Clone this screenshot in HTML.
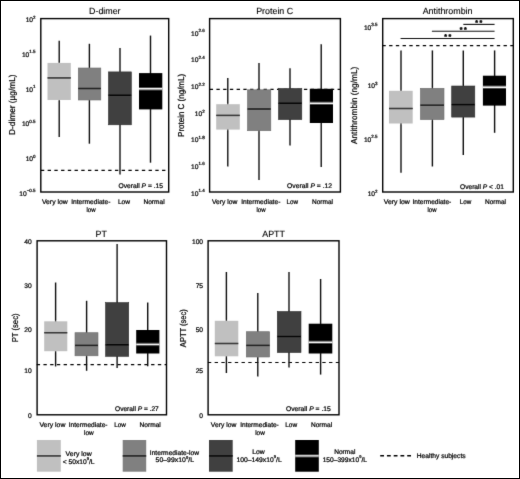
<!DOCTYPE html>
<html><head><meta charset="utf-8"><title>Figure</title>
<style>html,body{margin:0;padding:0;background:#fff;}svg{display:block;}text{text-rendering:geometricPrecision;stroke:#000;stroke-width:0.24px;}</style>
</head><body>
<svg width="520" height="479" viewBox="0 0 520 479" font-family='"Liberation Sans", Arial, Helvetica, sans-serif' fill="#000">
<rect x="0" y="0" width="520" height="479" fill="#fff"/>
<defs><filter id="soft" x="0" y="0" width="520" height="479" filterUnits="userSpaceOnUse"><feConvolveMatrix order="3" kernelMatrix="0.01 0.07 0.01 0.07 0.68 0.07 0.01 0.07 0.01" divisor="1" edgeMode="duplicate" preserveAlpha="false"/></filter></defs>
<g filter="url(#soft)">
<line x1="40.90" y1="170.40" x2="168.70" y2="170.40" stroke="#000" stroke-width="1.2" stroke-dasharray="3.35 3.38"/>
<line x1="59.20" y1="40.80" x2="59.20" y2="136.90" stroke="#111" stroke-width="1.4"/>
<rect x="47.50" y="62.90" width="23.30" height="37.10" fill="#c0c0c0"/>
<line x1="47.50" y1="77.90" x2="70.80" y2="77.90" stroke="#1a1a1a" stroke-width="1.5"/>
<line x1="89.40" y1="43.80" x2="89.40" y2="143.70" stroke="#111" stroke-width="1.4"/>
<rect x="78.30" y="68.00" width="22.50" height="32.00" fill="#808080" stroke="#6c6c6c" stroke-width="0.6"/>
<line x1="78.30" y1="88.50" x2="100.80" y2="88.50" stroke="#111111" stroke-width="1.5"/>
<line x1="120.00" y1="48.00" x2="120.00" y2="174.60" stroke="#111" stroke-width="1.4"/>
<rect x="108.50" y="71.90" width="22.80" height="52.90" fill="#404040" stroke="#2e2e2e" stroke-width="0.6"/>
<line x1="108.50" y1="95.20" x2="131.30" y2="95.20" stroke="#000000" stroke-width="1.5"/>
<line x1="150.50" y1="35.60" x2="150.50" y2="162.70" stroke="#111" stroke-width="1.4"/>
<rect x="139.00" y="73.10" width="23.30" height="36.30" fill="#000000"/>
<line x1="139.00" y1="88.80" x2="162.30" y2="88.80" stroke="#f0f0f0" stroke-width="1.7"/>
<rect x="40.80" y="18.60" width="127.90" height="173.40" fill="none" stroke="#000" stroke-width="1.4"/>
<text x="104.80" y="13.80" font-size="8.9" text-anchor="middle" style="stroke-width:0.12px">D-dimer</text>
<text x="35.60" y="22.00" font-size="6.7" text-anchor="end">10<tspan font-size="4.5" dy="-3.4">2</tspan></text>
<text x="35.60" y="56.80" font-size="6.7" text-anchor="end">10<tspan font-size="4.5" dy="-3.4">1.5</tspan></text>
<text x="35.60" y="91.60" font-size="6.7" text-anchor="end">10<tspan font-size="4.5" dy="-3.4">1</tspan></text>
<text x="35.60" y="126.10" font-size="6.7" text-anchor="end">10<tspan font-size="4.5" dy="-3.4">0.5</tspan></text>
<text x="35.60" y="161.40" font-size="6.7" text-anchor="end">10<tspan font-size="4.5" dy="-3.4">0</tspan></text>
<text x="35.60" y="195.80" font-size="6.7" text-anchor="end">10<tspan font-size="4.5" dy="-3.4">−0.5</tspan></text>
<text transform="translate(15.10,104.70) rotate(-90)" x="0" y="0" font-size="8.6" text-anchor="middle" textLength="60.60" lengthAdjust="spacingAndGlyphs">D-dimer (µg/mL)</text>
<text x="41.90" y="204.20" font-size="6.7" text-anchor="start" textLength="25.80" lengthAdjust="spacingAndGlyphs" >Very low</text>
<text x="71.20" y="204.20" font-size="6.7" text-anchor="start" textLength="39.20" lengthAdjust="spacingAndGlyphs" >Intermediate-</text>
<text x="86.50" y="212.20" font-size="6.7" text-anchor="start" textLength="9.10" lengthAdjust="spacingAndGlyphs" >low</text>
<text x="117.90" y="204.20" font-size="6.7" text-anchor="start" textLength="12.10" lengthAdjust="spacingAndGlyphs" >Low</text>
<text x="143.50" y="204.20" font-size="6.7" text-anchor="start" textLength="21.10" lengthAdjust="spacingAndGlyphs" >Normal</text>
<text x="118.50" y="188.40" font-size="6.7" text-anchor="start" textLength="44.50" lengthAdjust="spacingAndGlyphs" >Overall <tspan font-style="italic">P</tspan> = .15</text>
<line x1="209.70" y1="89.40" x2="340.40" y2="89.40" stroke="#000" stroke-width="1.2" stroke-dasharray="3.35 3.38"/>
<line x1="227.80" y1="78.10" x2="227.80" y2="166.50" stroke="#111" stroke-width="1.4"/>
<rect x="216.20" y="104.20" width="23.60" height="25.40" fill="#c0c0c0"/>
<line x1="216.20" y1="115.40" x2="239.80" y2="115.40" stroke="#1a1a1a" stroke-width="1.5"/>
<line x1="259.00" y1="63.00" x2="259.00" y2="180.00" stroke="#111" stroke-width="1.4"/>
<rect x="247.50" y="89.80" width="23.30" height="40.90" fill="#808080" stroke="#6c6c6c" stroke-width="0.6"/>
<line x1="247.50" y1="109.00" x2="270.80" y2="109.00" stroke="#111111" stroke-width="1.5"/>
<line x1="290.00" y1="68.30" x2="290.00" y2="145.50" stroke="#111" stroke-width="1.4"/>
<rect x="278.50" y="88.50" width="23.30" height="31.10" fill="#404040" stroke="#2e2e2e" stroke-width="0.6"/>
<line x1="278.50" y1="103.30" x2="301.80" y2="103.30" stroke="#000000" stroke-width="1.5"/>
<line x1="321.20" y1="44.20" x2="321.20" y2="167.10" stroke="#111" stroke-width="1.4"/>
<rect x="309.80" y="88.80" width="23.20" height="34.20" fill="#000000"/>
<line x1="309.80" y1="103.30" x2="333.00" y2="103.30" stroke="#f0f0f0" stroke-width="1.7"/>
<rect x="209.60" y="18.60" width="130.80" height="173.40" fill="none" stroke="#000" stroke-width="1.4"/>
<text x="274.70" y="13.80" font-size="8.9" text-anchor="middle" style="stroke-width:0.12px">Protein C</text>
<text x="204.70" y="35.80" font-size="6.7" text-anchor="end">10<tspan font-size="4.5" dy="-3.4">2.6</tspan></text>
<text x="204.70" y="62.30" font-size="6.7" text-anchor="end">10<tspan font-size="4.5" dy="-3.4">2.4</tspan></text>
<text x="204.70" y="88.90" font-size="6.7" text-anchor="end">10<tspan font-size="4.5" dy="-3.4">2.2</tspan></text>
<text x="204.70" y="115.90" font-size="6.7" text-anchor="end">10<tspan font-size="4.5" dy="-3.4">2</tspan></text>
<text x="204.70" y="141.90" font-size="6.7" text-anchor="end">10<tspan font-size="4.5" dy="-3.4">1.8</tspan></text>
<text x="204.70" y="168.60" font-size="6.7" text-anchor="end">10<tspan font-size="4.5" dy="-3.4">1.6</tspan></text>
<text x="204.70" y="195.60" font-size="6.7" text-anchor="end">10<tspan font-size="4.5" dy="-3.4">1.4</tspan></text>
<text transform="translate(184.10,105.40) rotate(-90)" x="0" y="0" font-size="8.6" text-anchor="middle" textLength="63.00" lengthAdjust="spacingAndGlyphs">Protein C (ng/mL)</text>
<text x="211.90" y="204.20" font-size="6.7" text-anchor="start" textLength="25.40" lengthAdjust="spacingAndGlyphs" >Very low</text>
<text x="241.20" y="204.20" font-size="6.7" text-anchor="start" textLength="39.20" lengthAdjust="spacingAndGlyphs" >Intermediate-</text>
<text x="256.50" y="212.20" font-size="6.7" text-anchor="start" textLength="9.10" lengthAdjust="spacingAndGlyphs" >low</text>
<text x="286.50" y="204.20" font-size="6.7" text-anchor="start" textLength="11.50" lengthAdjust="spacingAndGlyphs" >Low</text>
<text x="312.00" y="204.20" font-size="6.7" text-anchor="start" textLength="21.00" lengthAdjust="spacingAndGlyphs" >Normal</text>
<text x="287.10" y="188.40" font-size="6.7" text-anchor="start" textLength="45.00" lengthAdjust="spacingAndGlyphs" >Overall <tspan font-style="italic">P</tspan> = .12</text>
<line x1="382.40" y1="45.60" x2="513.30" y2="45.60" stroke="#000" stroke-width="1.2" stroke-dasharray="3.35 3.38"/>
<line x1="401.00" y1="50.40" x2="401.00" y2="172.70" stroke="#111" stroke-width="1.4"/>
<rect x="389.00" y="90.80" width="23.70" height="32.70" fill="#c0c0c0"/>
<line x1="389.00" y1="108.50" x2="412.70" y2="108.50" stroke="#1a1a1a" stroke-width="1.5"/>
<line x1="432.40" y1="50.40" x2="432.40" y2="166.50" stroke="#111" stroke-width="1.4"/>
<rect x="420.40" y="88.30" width="23.60" height="31.30" fill="#808080" stroke="#6c6c6c" stroke-width="0.6"/>
<line x1="420.40" y1="105.20" x2="444.00" y2="105.20" stroke="#111111" stroke-width="1.5"/>
<line x1="463.30" y1="50.40" x2="463.30" y2="155.00" stroke="#111" stroke-width="1.4"/>
<rect x="451.70" y="86.00" width="23.10" height="31.10" fill="#404040" stroke="#2e2e2e" stroke-width="0.6"/>
<line x1="451.70" y1="104.60" x2="474.80" y2="104.60" stroke="#000000" stroke-width="1.5"/>
<line x1="494.60" y1="50.40" x2="494.60" y2="132.80" stroke="#111" stroke-width="1.4"/>
<rect x="482.90" y="75.70" width="23.10" height="29.90" fill="#000000"/>
<line x1="482.90" y1="87.20" x2="506.00" y2="87.20" stroke="#f0f0f0" stroke-width="1.7"/>
<rect x="382.70" y="18.60" width="130.60" height="173.40" fill="none" stroke="#000" stroke-width="1.4"/>
<text x="447.60" y="13.80" font-size="8.9" text-anchor="middle" style="stroke-width:0.12px">Antithrombin</text>
<line x1="463.3" y1="24.4" x2="494.6" y2="24.4" stroke="#111" stroke-width="1.1"/>
<text x="479.45" y="25.20" font-size="7" text-anchor="middle" font-weight="bold" letter-spacing="1.4" style="stroke-width:0.4px">**</text>
<line x1="431.9" y1="31.3" x2="494.6" y2="31.3" stroke="#111" stroke-width="1.1"/>
<text x="463.90" y="32.10" font-size="7" text-anchor="middle" font-weight="bold" letter-spacing="1.4" style="stroke-width:0.4px">**</text>
<line x1="400.6" y1="38.5" x2="494.6" y2="38.5" stroke="#111" stroke-width="1.1"/>
<text x="448.40" y="39.00" font-size="7" text-anchor="middle" font-weight="bold" letter-spacing="1.4" style="stroke-width:0.4px">**</text>
<text x="377.60" y="29.80" font-size="6.7" text-anchor="end">10<tspan font-size="4.5" dy="-3.4">3.5</tspan></text>
<text x="377.60" y="88.00" font-size="6.7" text-anchor="end">10<tspan font-size="4.5" dy="-3.4">3</tspan></text>
<text x="377.60" y="141.80" font-size="6.7" text-anchor="end">10<tspan font-size="4.5" dy="-3.4">2.5</tspan></text>
<text x="377.60" y="196.00" font-size="6.7" text-anchor="end">10<tspan font-size="4.5" dy="-3.4">2</tspan></text>
<text transform="translate(357.10,105.40) rotate(-90)" x="0" y="0" font-size="8.6" text-anchor="middle" textLength="77.30" lengthAdjust="spacingAndGlyphs">Antithrombin (ng/mL)</text>
<text x="383.70" y="204.20" font-size="6.7" text-anchor="start" textLength="26.10" lengthAdjust="spacingAndGlyphs" >Very low</text>
<text x="412.50" y="204.20" font-size="6.7" text-anchor="start" textLength="38.80" lengthAdjust="spacingAndGlyphs" >Intermediate-</text>
<text x="427.50" y="212.20" font-size="6.7" text-anchor="start" textLength="9.00" lengthAdjust="spacingAndGlyphs" >low</text>
<text x="459.80" y="204.20" font-size="6.7" text-anchor="start" textLength="11.50" lengthAdjust="spacingAndGlyphs" >Low</text>
<text x="485.00" y="204.20" font-size="6.7" text-anchor="start" textLength="21.00" lengthAdjust="spacingAndGlyphs" >Normal</text>
<text x="460.00" y="188.80" font-size="6.7" text-anchor="start" textLength="44.00" lengthAdjust="spacingAndGlyphs" >Overall <tspan font-style="italic">P</tspan> &lt; .01</text>
<line x1="36.70" y1="364.60" x2="166.50" y2="364.60" stroke="#000" stroke-width="1.2" stroke-dasharray="3.35 3.38"/>
<line x1="55.60" y1="282.50" x2="55.60" y2="366.50" stroke="#111" stroke-width="1.4"/>
<rect x="44.20" y="321.30" width="23.10" height="29.90" fill="#c0c0c0"/>
<line x1="44.20" y1="332.70" x2="67.30" y2="332.70" stroke="#1a1a1a" stroke-width="1.5"/>
<line x1="86.60" y1="300.80" x2="86.60" y2="370.80" stroke="#111" stroke-width="1.4"/>
<rect x="75.00" y="332.70" width="23.00" height="23.10" fill="#808080" stroke="#6c6c6c" stroke-width="0.6"/>
<line x1="75.00" y1="345.40" x2="98.00" y2="345.40" stroke="#111111" stroke-width="1.5"/>
<line x1="117.10" y1="244.00" x2="117.10" y2="367.90" stroke="#111" stroke-width="1.4"/>
<rect x="105.60" y="302.60" width="23.10" height="53.70" fill="#404040" stroke="#2e2e2e" stroke-width="0.6"/>
<line x1="105.60" y1="344.80" x2="128.70" y2="344.80" stroke="#000000" stroke-width="1.5"/>
<line x1="147.70" y1="302.60" x2="147.70" y2="366.30" stroke="#111" stroke-width="1.4"/>
<rect x="136.20" y="330.00" width="23.20" height="23.50" fill="#000000"/>
<line x1="136.20" y1="344.40" x2="159.40" y2="344.40" stroke="#f0f0f0" stroke-width="1.7"/>
<rect x="37.10" y="240.80" width="129.40" height="174.00" fill="none" stroke="#000" stroke-width="1.4"/>
<text x="101.20" y="236.80" font-size="8.9" text-anchor="middle" style="stroke-width:0.12px">PT</text>
<text x="31.80" y="244.20" font-size="6.7" text-anchor="end" >40</text>
<text x="31.80" y="288.30" font-size="6.7" text-anchor="end" >30</text>
<text x="31.80" y="331.90" font-size="6.7" text-anchor="end" >20</text>
<text x="31.80" y="373.30" font-size="6.7" text-anchor="end" >10</text>
<text x="31.80" y="418.30" font-size="6.7" text-anchor="end" >0</text>
<text transform="translate(17.60,327.90) rotate(-90)" x="0" y="0" font-size="8.6" text-anchor="middle" textLength="28.80" lengthAdjust="spacingAndGlyphs">PT (sec)</text>
<text x="39.40" y="426.80" font-size="6.7" text-anchor="start" textLength="26.00" lengthAdjust="spacingAndGlyphs" >Very low</text>
<text x="68.80" y="426.80" font-size="6.7" text-anchor="start" textLength="38.70" lengthAdjust="spacingAndGlyphs" >Intermediate-</text>
<text x="84.00" y="434.80" font-size="6.7" text-anchor="start" textLength="9.70" lengthAdjust="spacingAndGlyphs" >low</text>
<text x="114.20" y="426.80" font-size="6.7" text-anchor="start" textLength="11.60" lengthAdjust="spacingAndGlyphs" >Low</text>
<text x="139.60" y="426.80" font-size="6.7" text-anchor="start" textLength="21.20" lengthAdjust="spacingAndGlyphs" >Normal</text>
<text x="115.00" y="410.90" font-size="6.7" text-anchor="start" textLength="43.80" lengthAdjust="spacingAndGlyphs" >Overall <tspan font-style="italic">P</tspan> = .27</text>
<line x1="207.90" y1="362.50" x2="339.00" y2="362.50" stroke="#000" stroke-width="1.2" stroke-dasharray="3.35 3.38"/>
<line x1="226.40" y1="272.00" x2="226.40" y2="373.00" stroke="#111" stroke-width="1.4"/>
<rect x="214.80" y="320.80" width="23.50" height="35.50" fill="#c0c0c0"/>
<line x1="214.80" y1="343.50" x2="238.30" y2="343.50" stroke="#1a1a1a" stroke-width="1.5"/>
<line x1="257.80" y1="293.00" x2="257.80" y2="376.50" stroke="#111" stroke-width="1.4"/>
<rect x="246.30" y="331.70" width="23.30" height="25.30" fill="#808080" stroke="#6c6c6c" stroke-width="0.6"/>
<line x1="246.30" y1="345.40" x2="269.60" y2="345.40" stroke="#111111" stroke-width="1.5"/>
<line x1="289.00" y1="272.00" x2="289.00" y2="367.50" stroke="#111" stroke-width="1.4"/>
<rect x="277.30" y="311.50" width="23.70" height="41.00" fill="#404040" stroke="#2e2e2e" stroke-width="0.6"/>
<line x1="277.30" y1="336.50" x2="301.00" y2="336.50" stroke="#000000" stroke-width="1.5"/>
<line x1="320.60" y1="279.00" x2="320.60" y2="374.60" stroke="#111" stroke-width="1.4"/>
<rect x="308.70" y="323.70" width="23.60" height="29.80" fill="#000000"/>
<line x1="308.70" y1="342.30" x2="332.30" y2="342.30" stroke="#f0f0f0" stroke-width="1.7"/>
<rect x="208.10" y="240.80" width="130.90" height="174.00" fill="none" stroke="#000" stroke-width="1.4"/>
<text x="273.60" y="236.70" font-size="8.9" text-anchor="middle" style="stroke-width:0.12px">APTT</text>
<text x="203.10" y="244.20" font-size="6.7" text-anchor="end" >100</text>
<text x="203.10" y="288.30" font-size="6.7" text-anchor="end" >75</text>
<text x="203.10" y="331.90" font-size="6.7" text-anchor="end" >50</text>
<text x="203.10" y="373.30" font-size="6.7" text-anchor="end" >25</text>
<text x="203.10" y="418.30" font-size="6.7" text-anchor="end" >0</text>
<text transform="translate(185.90,328.20) rotate(-90)" x="0" y="0" font-size="8.6" text-anchor="middle" textLength="37.90" lengthAdjust="spacingAndGlyphs">APTT (sec)</text>
<text x="210.80" y="426.80" font-size="6.7" text-anchor="start" textLength="25.50" lengthAdjust="spacingAndGlyphs" >Very low</text>
<text x="240.20" y="426.80" font-size="6.7" text-anchor="start" textLength="38.60" lengthAdjust="spacingAndGlyphs" >Intermediate-</text>
<text x="255.20" y="434.80" font-size="6.7" text-anchor="start" textLength="9.60" lengthAdjust="spacingAndGlyphs" >low</text>
<text x="285.20" y="426.80" font-size="6.7" text-anchor="start" textLength="11.90" lengthAdjust="spacingAndGlyphs" >Low</text>
<text x="311.00" y="426.80" font-size="6.7" text-anchor="start" textLength="21.10" lengthAdjust="spacingAndGlyphs" >Normal</text>
<text x="286.00" y="410.90" font-size="6.7" text-anchor="start" textLength="44.80" lengthAdjust="spacingAndGlyphs" >Overall <tspan font-style="italic">P</tspan> = .15</text>
<rect x="36.9" y="440" width="23.90" height="31.7" fill="#c0c0c0"/>
<line x1="36.9" y1="455.9" x2="60.8" y2="455.9" stroke="#1a1a1a" stroke-width="1.5"/>
<rect x="122.7" y="440" width="23.50" height="31.7" fill="#808080"/>
<line x1="122.7" y1="455.9" x2="146.2" y2="455.9" stroke="#111111" stroke-width="1.5"/>
<rect x="209" y="440" width="23.70" height="31.7" fill="#404040"/>
<line x1="209" y1="455.9" x2="232.7" y2="455.9" stroke="#000000" stroke-width="1.5"/>
<rect x="295.2" y="440" width="23.60" height="31.7" fill="#000000"/>
<line x1="295.2" y1="455.9" x2="318.8" y2="455.9" stroke="#f0f0f0" stroke-width="1.5"/>
<text x="65.60" y="456.20" font-size="6.7" text-anchor="start" textLength="26.10" lengthAdjust="spacingAndGlyphs" >Very low</text>
<text x="62.70" y="463.50" font-size="6.7" text-anchor="start" textLength="31.90" lengthAdjust="spacingAndGlyphs" >&lt; 50x10<tspan font-size="4.1" dy="-3.5">9</tspan><tspan dy="3.5">/L</tspan></text>
<text x="149.80" y="454.70" font-size="6.7" text-anchor="start" textLength="49.20" lengthAdjust="spacingAndGlyphs" >Intermediate-low</text>
<text x="155.60" y="462.40" font-size="6.7" text-anchor="start" textLength="38.40" lengthAdjust="spacingAndGlyphs" >50–99x10<tspan font-size="4.1" dy="-3.5">9</tspan><tspan dy="3.5">/L</tspan></text>
<text x="252.30" y="453.80" font-size="6.7" text-anchor="start" textLength="12.50" lengthAdjust="spacingAndGlyphs" >Low</text>
<text x="236.50" y="461.90" font-size="6.7" text-anchor="start" textLength="45.20" lengthAdjust="spacingAndGlyphs" >100–149x10<tspan font-size="4.1" dy="-3.5">9</tspan><tspan dy="3.5">/L</tspan></text>
<text x="334.20" y="453.50" font-size="6.7" text-anchor="start" textLength="21.20" lengthAdjust="spacingAndGlyphs" >Normal</text>
<text x="322.70" y="461.90" font-size="6.7" text-anchor="start" textLength="44.30" lengthAdjust="spacingAndGlyphs" >150–399x10<tspan font-size="4.1" dy="-3.5">9</tspan><tspan dy="3.5">/L</tspan></text>
<line x1="380.2" y1="455.8" x2="411" y2="455.8" stroke="#000" stroke-width="1.4" stroke-dasharray="3.8 2.95"/>
<text x="416.70" y="457.70" font-size="6.7" text-anchor="start" textLength="48.90" lengthAdjust="spacingAndGlyphs" >Healthy subjects</text>
</g>
<rect x="0.5" y="0.5" width="519" height="478" fill="none" stroke="#000" stroke-width="1"/>
</svg>
</body></html>
